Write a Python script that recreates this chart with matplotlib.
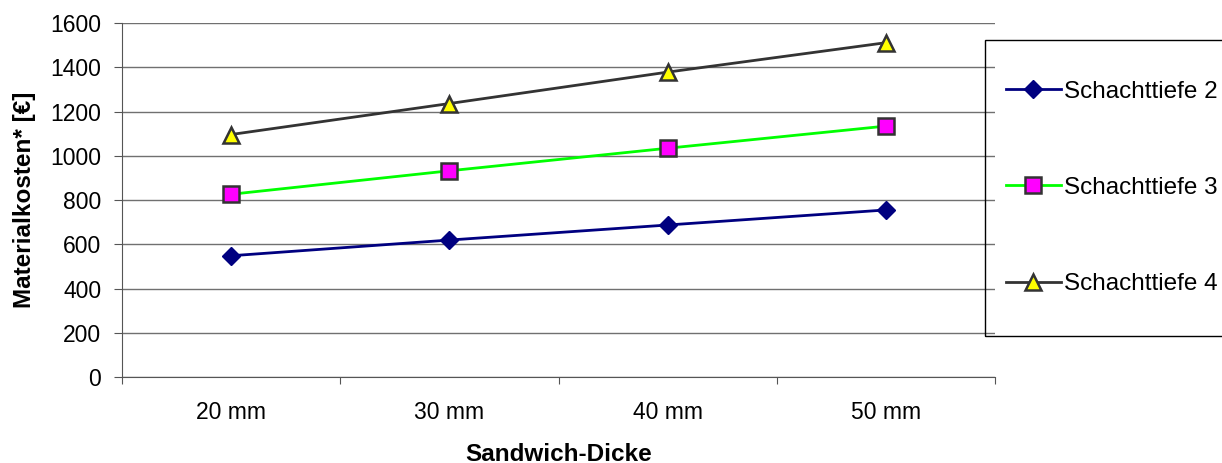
import numpy as np
import matplotlib.pyplot as plt
from matplotlib.patches import Rectangle

# ---------------------------
# DATA
# ---------------------------
dicke = ["20 mm", "30 mm", "40 mm", "50 mm"]
tiefe_2 = [548, 619, 687, 755]
tiefe_3 = [826, 932, 1034, 1134]
tiefe_4 = [1096, 1236, 1378, 1511]
serien = ["Schachttiefe 2 m", "Schachttiefe 3 m", "Schachttiefe 4 m"]

plt.rcParams["font.family"] = ["Liberation Sans", "DejaVu Sans"]
FS = 16.5      # tick labels
FS_LEG = 17.5  # legend
FS_LAB = 17.5  # bold axis titles

W, H = 1222, 463
fig = plt.figure(figsize=(W / 100, H / 100), dpi=100)
ax = fig.add_axes([122 / W, 1 - 377 / H, (995 - 122) / W, (377 - 23) / H])

x = np.arange(len(dicke))
ax.plot(x, tiefe_2, color="#000080", lw=2, marker="D", ms=9,
        mfc="#000080", mec="#000080", label=serien[0], zorder=3)
ax.plot(x, tiefe_3, color="#00ff00", lw=2, marker="s", ms=11,
        mfc="#ff00ff", mec="#333333", mew=1.8, label=serien[1], zorder=3)
ax.plot(x, tiefe_4, color="#333333", lw=2, marker="^", ms=12,
        mfc="#ffff00", mec="#333333", mew=1.8, label=serien[2], zorder=3)

# y axis
ax.set_ylim(0, 1600)
ax.set_yticks(np.arange(0, 1601, 200))
ax.yaxis.grid(True, color="#707070", lw=1)
ax.set_axisbelow(True)
ax.tick_params(axis="y", direction="out", length=6, color="#555555",
               labelsize=FS, pad=9)
ax.set_ylabel("Materialkosten* [€]", fontsize=FS_LAB, fontweight="bold", labelpad=10)

# x axis: category labels between boundary ticks
ax.set_xlim(-0.5, len(dicke) - 0.5)
ax.set_xticks(np.arange(-0.5, len(dicke), 1.0))
ax.set_xticklabels([])
ax.set_xticks(x, minor=True)
ax.set_xticklabels(dicke, minor=True)
ax.tick_params(axis="x", which="major", direction="out", length=5, color="#555555")
ax.tick_params(axis="x", which="minor", length=0, labelsize=FS, pad=17)
ax.set_xlabel("Sandwich-Dicke", fontsize=FS_LAB, fontweight="bold", labelpad=14)

for s in ["top", "right"]:
    ax.spines[s].set_visible(False)
for s in ["left", "bottom"]:
    ax.spines[s].set_color("#555555")

# legend box (wider than the figure, text runs off the right edge)
fig.patches.append(Rectangle((985 / W, 1 - 336 / H), 260 / W, 296 / H,
                             transform=fig.transFigure, fill=False,
                             edgecolor="black", lw=1))
fig.legend(loc="center left", bbox_to_anchor=(994 / W, 1 - 188 / H),
           frameon=False, fontsize=FS_LEG, handlelength=2.25, handletextpad=0.15,
           labelspacing=3.05, borderpad=0)

fig.savefig("out.png", dpi=100)
